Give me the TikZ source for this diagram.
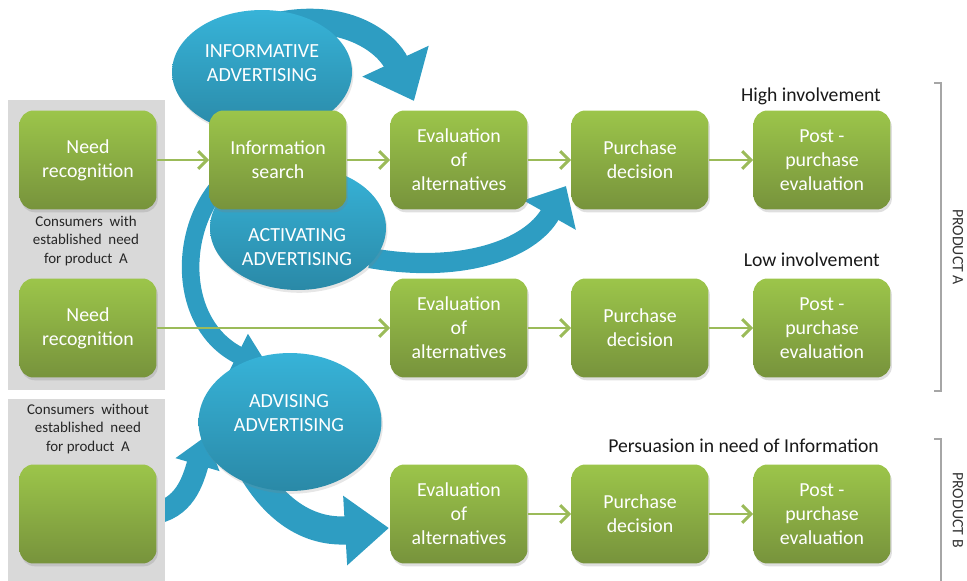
\documentclass[tikz,border=0pt]{standalone}
\usepackage{fontspec}
\setmainfont{Carlito}
\usetikzlibrary{arrows.meta,shapes.geometric,shadows}

\definecolor{stemgreen}{HTML}{9BBB59}
\definecolor{greentop}{HTML}{9CC54A}
\definecolor{greenbot}{HTML}{77933C}
\definecolor{bluetop}{HTML}{37B3D8}
\definecolor{bluebot}{HTML}{2A89A7}
\definecolor{bluearrow}{HTML}{2E9DC2}
\definecolor{panelgray}{HTML}{D9D9D9}
\definecolor{bracketgray}{HTML}{A6A6A6}

\tikzset{
  stage/.style={draw=none, rounded corners=8pt, minimum width=2.74cm, minimum height=1.98cm,
    top color=greentop, bottom color=greenbot, text=white, align=center,
    font=\fontsize{11.3}{13.6}\selectfont,
    drop shadow={opacity=0.25, shadow xshift=0.8pt, shadow yshift=-1.6pt}},
  adblob/.style={ellipse, draw=none, inner sep=0pt, top color=bluetop, bottom color=bluebot,
    drop shadow={opacity=0.2, shadow xshift=0.8pt, shadow yshift=-1.6pt}},
  adtext/.style={text=white, align=center, font=\fontsize{11.4}{13.2}\selectfont},
  flow/.style={draw=stemgreen, line width=1.7pt, -{Straight Barb[length=5pt,width=10pt]}},
  sweep/.style n args={3}{draw=bluearrow, line width=#1, -{Triangle[width=#2,length=#3]}},
  note/.style={align=center, font=\fontsize{8.5}{10.8}\selectfont, text=black!85},
  tag/.style={anchor=east, font=\fontsize{11.2}{12}\selectfont, text=black!90},
  side/.style={rotate=-90, font=\fontsize{9}{10}\selectfont, text=black!80},
}

\begin{document}
\begin{tikzpicture}[x=0.02cm,y=-0.02cm]

\useasboundingbox (0,0) rectangle (967,581);

% arrow from the blank box, partly under the panel
\coordinate (blank-out) at (150,514);
\coordinate (tip-left) at (206,436);
\draw[sweep={12.5pt}{25pt}{17pt}] (blank-out) .. controls (185,510) and (193,480) .. (tip-left);

% grey panels
\fill[panelgray] (8,100) rectangle (165,390);
\fill[panelgray] (8,399) rectangle (165,581);

% big blue arrows
\coordinate (inf-out) at (282,24);
\coordinate (tip-inf) at (414,101);
\draw[sweep={14.5pt}{40pt}{25pt}] (inf-out) .. controls (350,12) and (388,45) .. (tip-inf);

\coordinate (act-out) at (370,258);
\coordinate (tip-act) at (566,186);
\draw[sweep={11.5pt}{33pt}{19pt}] (act-out) .. controls (460,274) and (530,250) .. (tip-act);

\coordinate (info-back) at (220,185);
\coordinate (tip-adv) at (272,372);
\draw[sweep={10pt}{25pt}{22pt}] (info-back) .. controls (178,232) and (178,325) .. (tip-adv);

\coordinate (adv-out) at (252,470);
\coordinate (tip-eval) at (389,528);
\draw[sweep={16pt}{38pt}{25pt}] (adv-out) .. controls (283,522) and (320,532) .. (tip-eval);

% advertising ellipses
\node[adblob, minimum width=3.6cm, minimum height=2.48cm] (informative) at (262,72) {};
\node[adtext] (informative-txt) at (262,63) {INFORMATIVE\\ADVERTISING};

\node[adblob, minimum width=3.52cm, minimum height=2.48cm] (activating) at (298,228) {};
\node[adtext] (activating-txt) at (297,247) {ACTIVATING\\ADVERTISING};

\node[adblob, minimum width=3.66cm, minimum height=2.76cm] (advising) at (290,422) {};
\node[adtext] (advising-txt) at (289,413) {ADVISING\\ADVERTISING};

% stages, high involvement
\node[stage] (need1) at (88,160) {Need\\recognition};
\node[stage] (info) at (278,160) {Information\\search};
\node[stage] (eval1) at (459,160) {Evaluation\\of\\alternatives};
\node[stage] (buy1) at (640,160) {Purchase\\decision};
\node[stage] (post1) at (822,160) {Post -\\purchase\\evaluation};

% stages, low involvement
\node[stage] (need2) at (88,328) {Need\\recognition};
\node[stage] (eval2) at (459,328) {Evaluation\\of\\alternatives};
\node[stage] (buy2) at (640,328) {Purchase\\decision};
\node[stage] (post2) at (822,328) {Post -\\purchase\\evaluation};

% stages, product B
\node[stage] (blank3) at (88,514) {};
\node[stage] (eval3) at (459,514) {Evaluation\\of\\alternatives};
\node[stage] (buy3) at (640,514) {Purchase\\decision};
\node[stage] (post3) at (822,514) {Post -\\purchase\\evaluation};

\draw[flow] (need1) -- (info);
\draw[flow] (info) -- (eval1);
\draw[flow] (eval1) -- (buy1);
\draw[flow] (buy1) -- (post1);

\draw[flow] (need2) -- (eval2);
\draw[flow] (eval2) -- (buy2);
\draw[flow] (buy2) -- (post2);

\draw[flow] (eval3) -- (buy3);
\draw[flow] (buy3) -- (post3);

% texts
\node[note] (with-need) at (86,241) {Consumers~ with\\established~ need\\for product~ A};
\node[note] (without-need) at (88,429) {Consumers~ without\\established~ need\\for product~ A};

\node[tag] (high) at (887,96) {High involvement};
\node[tag] (low) at (886,260) {Low involvement};
\node[tag] (persuasion) at (885,446) {Persuasion in need of Information};

% brackets
\draw[bracketgray, line width=0.8pt] (934,83) -- (941,83) -- (941,391) -- (934,391);
\draw[bracketgray, line width=0.8pt] (934,439) -- (941,439) -- (941,581);
\node[side] (prod-a) at (958,247) {PRODUCT A};
\node[side] (prod-b) at (958,510) {PRODUCT B};

\end{tikzpicture}
\end{document}
